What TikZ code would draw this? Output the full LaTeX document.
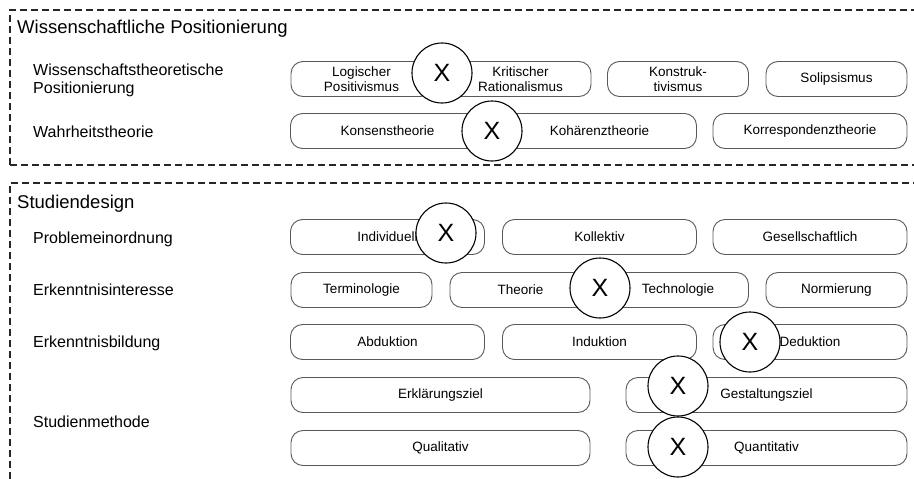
\documentclass[tikz,border=0pt]{standalone}
\usepackage{fontspec}
\setmainfont{Liberation Sans}

\begin{document}
\begin{tikzpicture}[x=1pt,y=-1pt,
    bereich/.style={draw=black!85, line width=1.1pt, dash pattern=on 7pt off 4pt},
    titel/.style={anchor=base west, inner sep=0pt, font=\fontsize{18.5}{22}\selectfont},
    zeile/.style={anchor=base west, inner sep=0pt, align=left, font=\fontsize{16}{18}\selectfont},
    auswahl/.style={draw=black!65, line width=0.9pt, rounded corners=12pt, minimum height=35pt,
      inner sep=0pt, align=center, font=\fontsize{13.5}{15.5}\selectfont},
    kreuz/.style={draw, circle, fill=white, line width=1.1pt, minimum size=60pt, inner sep=0pt,
      font=\fontsize{25}{25}\selectfont}]
    \useasboundingbox (0,0) rectangle (914,479);

    % Wissenschaftliche Positionierung
    \draw[bereich] (10,165) -- (10,10) -- (925,10);
    \draw[bereich] (10,165) -- (925,165);
    \node[titel] (wp) at (17,33) {Wissenschaftliche Positionierung};
    \node[zeile] (wtp) at (33,93) {Wissenschaftstheoretische\\Positionierung}; % base = last line
    \node[zeile] (wt) at (33,137) {Wahrheitstheorie};

    \foreach \n/\cx/\t in {lp/361.5/{Logischer\\Positivismus}, kr/520.5/{Kritischer\\Rationalismus},
        ko/678/{Konstruk-\\tivismus}, so/836.5/Solipsismus}
    \node[auswahl, minimum width=141pt] (\n) at (\cx,79) {\t};

    \foreach \n/\cx/\t in {kon/387.5/Konsenstheorie, koh/599.5/Kohärenztheorie, kor/810/Korrespondenztheorie}
    \node[auswahl, minimum width=194pt] (\n) at (\cx,131) {\t};

    \node[kreuz] (x1) at (442,73) {X};
    \node[kreuz] (x2) at (492,131) {X};

    % Studiendesign
    \draw[bereich] (10,490) -- (10,183) -- (925,183);
    \node[titel] (sd) at (17,208) {Studiendesign};
    \node[zeile] (pe) at (33,243) {Problemeinordnung};
    \node[zeile] (ei) at (33,295) {Erkenntnisinteresse};
    \node[zeile] (eb) at (33,347) {Erkenntnisbildung};
    \node[zeile] (sm) at (33,427) {Studienmethode};

    \foreach \n/\cx/\t in {ind/387.5/Individuell, kol/599.5/Kollektiv, ges/810/Gesellschaftlich}
    \node[auswahl, minimum width=194pt] (\n) at (\cx,237) {\t};

    \foreach \n/\cx/\t in {ter/361.5/Terminologie, the/520.5/Theorie, tec/678/Technologie, nor/836.5/Normierung}
    \node[auswahl, minimum width=141pt] (\n) at (\cx,290) {\t};

    \foreach \n/\cx/\t in {abd/387.5/Abduktion, ink/599.5/Induktion, ded/810/Deduktion}
    \node[auswahl, minimum width=194pt] (\n) at (\cx,342) {\t};

    \node[auswahl, minimum width=299pt] (erk) at (440.5,395) {Erklärungsziel};
    \node[auswahl, minimum width=281pt] (gest) at (766.5,395) {Gestaltungsziel};
    \node[auswahl, minimum width=299pt] (qual) at (440.5,448) {Qualitativ};
    \node[auswahl, minimum width=281pt] (quan) at (766.5,448) {Quantitativ};

    \node[kreuz] (x3) at (446,233) {X};
    \node[kreuz] (x4) at (600,288) {X};
    \node[kreuz] (x5) at (750,342) {X};
    \node[kreuz] (x6) at (678,386) {X};
    \node[kreuz] (x7) at (678,447) {X};
  \end{tikzpicture}
\end{document}
